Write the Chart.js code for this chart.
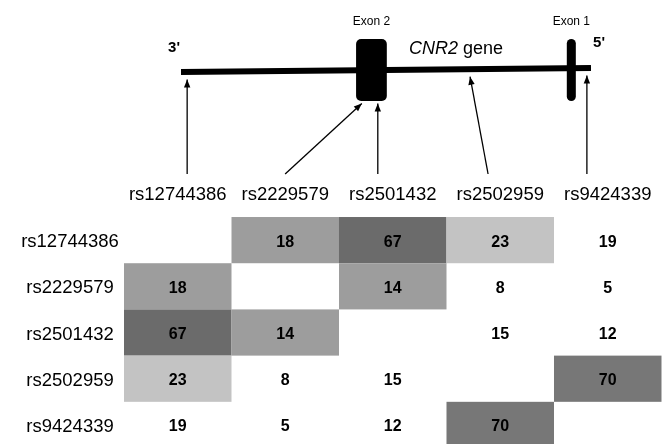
<!DOCTYPE html>
<html>
<head>
<meta charset="utf-8">
<script src="https://cdn.jsdelivr.net/npm/chart.js@4.4.1/dist/chart.umd.min.js"></script>
<style>
  body { margin: 0; background: #fff; }
  canvas { display: block; }
</style>
</head>
<body>
<canvas id="geneChart" width="662" height="182"></canvas>
<canvas id="ldChart" width="662" height="262"></canvas>
<script>
// SNP names (heatmap rows / columns)
const snps = ['rs12744386', 'rs2229579', 'rs2501432', 'rs2502959', 'rs9424339'];

// LD values, symmetric matrix (empty diagonal)
const ldValues = [
  [null, 18, 67, 23, 19],
  [18, null, 14, 8, 5],
  [67, 14, null, 15, 12],
  [23, 8, 15, null, 70],
  [19, 5, 12, 70, null]
];

// shading level of each cell (0 = none .. 4 = darkest)
const ldShade = [
  [0, 2, 4, 1, 0],
  [2, 0, 2, 0, 0],
  [4, 2, 0, 0, 0],
  [1, 0, 0, 0, 3],
  [0, 0, 0, 3, 0]
];

// gene map, relative position 0 (3' end) .. 100 (5' end)
const geneEnds = [0, 100];
const exonNames = ['Exon 2', 'Exon 1'];
const exonStart = [42.7, 94.1];
const exonEnd = [50.2, 96.3];
const snpGenePos = [1.5, 44.1, 48.0, 70.5, 99.0];   // where each arrow points
const snpLabelPos = [1.5, 25.4, 48.0, 74.9, 99.0];  // where each arrow starts

const FONT = '"Liberation Sans", Arial, sans-serif';
const shadeColors = ['rgba(0,0,0,0)', '#c3c3c3', '#9d9d9d', '#777777', '#6b6b6b'];

// ---------- gene diagram ----------
const GENE_TILT = 0.2;
const EXON_HALF = 3.1;
const ARROW_TAIL = -10.4;

function lineY(x) {
  return -GENE_TILT + (x - geneEnds[0]) / (geneEnds[1] - geneEnds[0]) * 2 * GENE_TILT;
}
function inExon(x) {
  return exonStart.some((s, i) => x >= s && x <= exonEnd[i]);
}
function tipY(x) {
  return inExon(x) ? -EXON_HALF - 0.25 : lineY(x) - 0.75;
}

const geneDatasets = [{
  data: geneEnds.map(x => ({ x: x, y: lineY(x) })),
  showLine: true,
  borderColor: '#000',
  borderWidth: 6,
  borderCapStyle: 'butt',
  pointRadius: 0
}];
snps.forEach((s, i) => {
  geneDatasets.push({
    data: [
      { x: snpLabelPos[i], y: ARROW_TAIL },
      { x: snpGenePos[i], y: tipY(snpGenePos[i]) }
    ],
    showLine: true,
    borderColor: '#000',
    borderWidth: 1.3,
    pointRadius: 0
  });
});

const geneDecor = {
  id: 'geneDecor',
  afterDatasetsDraw(chart) {
    const ctx = chart.ctx;
    const xs = chart.scales.x, ys = chart.scales.y;
    ctx.save();
    ctx.fillStyle = '#000';
    // exons
    exonStart.forEach((s, i) => {
      const x0 = xs.getPixelForValue(s), x1 = xs.getPixelForValue(exonEnd[i]);
      const y0 = ys.getPixelForValue(EXON_HALF), y1 = ys.getPixelForValue(-EXON_HALF);
      const r = Math.min(5, (x1 - x0) / 2);
      ctx.beginPath();
      ctx.roundRect(x0, y0, x1 - x0, y1 - y0, r);
      ctx.fill();
      ctx.font = '12px ' + FONT;
      ctx.textAlign = 'center';
      ctx.textBaseline = 'middle';
      ctx.fillText(exonNames[i], (x0 + x1) / 2, ys.getPixelForValue(EXON_HALF + 1.7));
    });
    // arrowheads
    snps.forEach((s, i) => {
      const ax = xs.getPixelForValue(snpLabelPos[i]), ay = ys.getPixelForValue(ARROW_TAIL);
      const bx = xs.getPixelForValue(snpGenePos[i]), by = ys.getPixelForValue(tipY(snpGenePos[i]));
      const ang = Math.atan2(by - ay, bx - ax);
      const len = 8, half = 3.2;
      ctx.beginPath();
      ctx.moveTo(bx, by);
      ctx.lineTo(bx - len * Math.cos(ang) + half * Math.sin(ang), by - len * Math.sin(ang) - half * Math.cos(ang));
      ctx.lineTo(bx - len * Math.cos(ang) - half * Math.sin(ang), by - len * Math.sin(ang) + half * Math.cos(ang));
      ctx.closePath();
      ctx.fill();
    });
    // ends and gene name
    ctx.textBaseline = 'middle';
    ctx.textAlign = 'center';
    ctx.font = 'bold 15px ' + FONT;
    ctx.fillText("3'", xs.getPixelForValue(geneEnds[0]) - 7, ys.getPixelForValue(2.2));
    ctx.fillText("5'", xs.getPixelForValue(geneEnds[1]) + 8, ys.getPixelForValue(2.7));
    ctx.textAlign = 'left';
    ctx.font = 'italic 18px ' + FONT;
    const gx = xs.getPixelForValue(55.6), gy = ys.getPixelForValue(2.1);
    ctx.fillText('CNR2', gx, gy);
    const w = ctx.measureText('CNR2 ').width;
    ctx.font = '18px ' + FONT;
    ctx.fillText('gene', gx + w, gy);
    ctx.restore();
  }
};

new Chart(document.getElementById('geneChart'), {
  type: 'scatter',
  data: { datasets: geneDatasets },
  options: {
    responsive: false,
    animation: false,
    devicePixelRatio: 1,
    layout: { padding: 0 },
    plugins: { legend: { display: false }, tooltip: { enabled: false } },
    scales: {
      x: { type: 'linear', min: -44.15, max: 117.32, display: false },
      y: { type: 'linear', min: -11.2, max: 7, display: false }
    }
  },
  plugins: [geneDecor]
});

// ---------- LD heatmap ----------
const cellPoints = [];
ldValues.forEach((row, r) => row.forEach((v, c) => {
  if (v !== null) cellPoints.push({ x: c + 0.5, y: r + 0.5, v: v, shade: ldShade[r][c] });
}));

const heatCells = {
  id: 'heatCells',
  beforeDatasetsDraw(chart) {
    const ctx = chart.ctx;
    const xs = chart.scales.x, ys = chart.scales.y;
    ctx.save();
    cellPoints.forEach(p => {
      if (!p.shade) return;
      const x0 = xs.getPixelForValue(p.x - 0.5), x1 = xs.getPixelForValue(p.x + 0.5);
      const y0 = ys.getPixelForValue(p.y - 0.5), y1 = ys.getPixelForValue(p.y + 0.5);
      ctx.fillStyle = shadeColors[p.shade];
      ctx.fillRect(x0, y0, x1 - x0, y1 - y0);
    });
    ctx.fillStyle = '#000';
    ctx.textAlign = 'center';
    ctx.textBaseline = 'middle';
    ctx.font = 'bold 16px ' + FONT;
    cellPoints.forEach(p => {
      ctx.fillText(String(p.v), xs.getPixelForValue(p.x), ys.getPixelForValue(p.y) + 2);
    });
    ctx.font = '18.5px ' + FONT;
    snps.forEach((s, i) => {
      ctx.fillText(s, xs.getPixelForValue(i + 0.5), ys.getPixelForValue(-0.476));
      ctx.fillText(s, xs.getPixelForValue(-0.502), ys.getPixelForValue(i + 0.5) + 2);
    });
    ctx.restore();
  }
};

new Chart(document.getElementById('ldChart'), {
  type: 'scatter',
  data: { datasets: [{ data: cellPoints, pointRadius: 0 }] },
  options: {
    responsive: false,
    animation: false,
    devicePixelRatio: 1,
    layout: { padding: 0 },
    plugins: { legend: { display: false }, tooltip: { enabled: false } },
    scales: {
      x: { type: 'linear', min: -1.1535, max: 5.0047, display: false },
      y: { type: 'linear', min: -0.758, max: 4.913, reverse: true, display: false }
    }
  },
  plugins: [heatCells]
});
</script>
</body>
</html>
